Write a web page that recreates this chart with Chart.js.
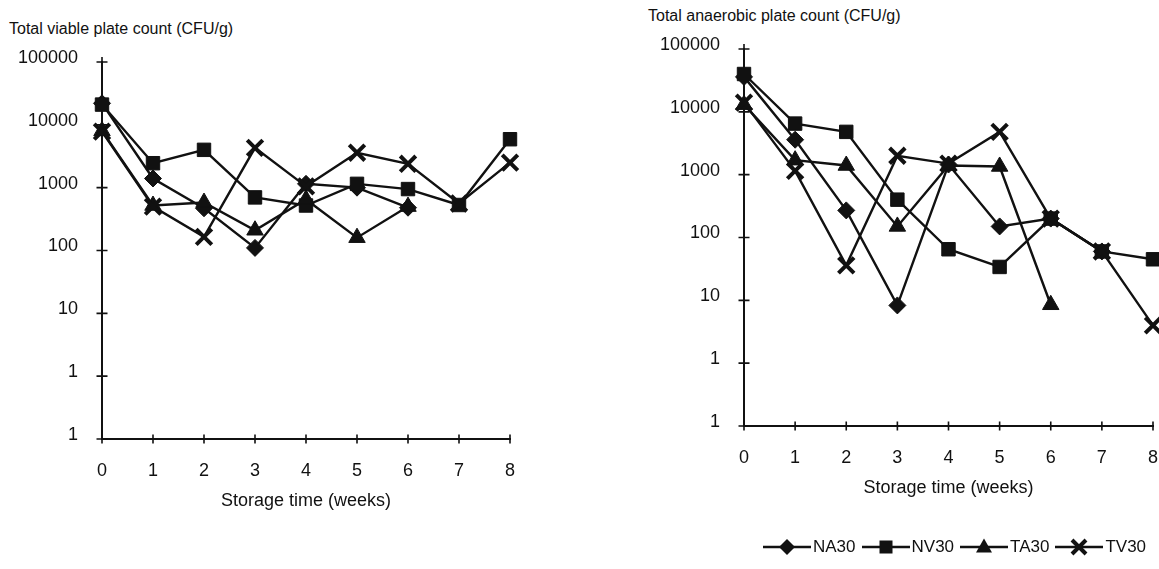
<!DOCTYPE html>
<html>
<head>
<meta charset="utf-8">
<script src="https://cdn.jsdelivr.net/npm/chart.js@4/dist/chart.umd.min.js"></script>
<style>
  html, body { margin: 0; padding: 0; background: #fff; }
  body { width: 1159px; height: 569px; position: relative; overflow: hidden;
         font-family: 'Liberation Sans', Arial, sans-serif; color: #111; }
  canvas { position: absolute; top: 0; }
  .ytitle { position: absolute; font-size: 16px; line-height: 18px; white-space: nowrap; }
  #legend { position: absolute; left: 763px; top: 536px; height: 22px; display: flex; align-items: center; font-size: 17px; }
  #legend .item { display: flex; align-items: center; margin-right: 6px; }
  #legend svg { margin-right: 2px; }
</style>
</head>
<body>
<div class="ytitle" style="left:9px; top:20px;">Total viable plate count (CFU/g)</div>
<div class="ytitle" style="left:648px; top:7px;">Total anaerobic plate count (CFU/g)</div>
<canvas id="viable" width="580" height="569" style="left:0; width:580px; height:569px;"></canvas>
<canvas id="anaerobic" width="569" height="556" style="left:590px; width:569px; height:556px;"></canvas>
<div id="legend"></div>

<script>
// Storage weeks on the x axis
const weeks = ['0', '1', '2', '3', '4', '5', '6', '7', '8'];

// Log axis tick positions and the labels printed beside them
const yTickValues = [0.1, 1, 10, 100, 1000, 10000, 100000];
const yTickLabels = ['1', '1', '10', '100', '1000', '10000', '100000'];

const seriesNames = ['NA30', 'NV30', 'TA30', 'TV30'];

// Total viable plate count (CFU/g)
const viableNA30 = [22000, 1400, 470, 110, 1150, 1000, 480, null, null];
const viableNV30 = [21000, 2450, 4000, 700, 520, 1150, 950, 530, 5900];
const viableTA30 = [8000, 520, 580, 210, 650, 160, 500, null, null];
const viableTV30 = [7800, 500, 165, 4300, 1050, 3600, 2400, 560, 2500];

// Total anaerobic plate count (CFU/g)
const anaerobicNA30 = [36000, 3600, 270, 8.3, 1450, 150, 200, 60, null];
const anaerobicNV30 = [40000, 6500, 4800, 400, 65, 34, 200, 60, 45];
const anaerobicTA30 = [13000, 1700, 1400, 150, 1400, 1350, 8.5, null, null];
const anaerobicTV30 = [14000, 1150, 36, 2000, 1500, 4800, 200, 60, 4];

const INK = '#111';
const FONT = "'Liberation Sans', Arial, sans-serif";

// Marker look for each series
const markerStyles = {
  NA30: { pointStyle: 'rectRot',  radius: 8.5, borderWidth: 1 },
  NV30: { pointStyle: 'rect',     radius: 9.5, borderWidth: 1 },
  TA30: { pointStyle: 'triangle', radius: 9.5, borderWidth: 1 },
  TV30: { pointStyle: 'crossRot', radius: 11,  borderWidth: 4 }
};

function buildDatasets(valuesList) {
  return valuesList.map((values, i) => {
    const name = seriesNames[i];
    const m = markerStyles[name];
    return {
      label: name,
      data: values,
      borderColor: INK,
      backgroundColor: INK,
      borderWidth: 2.4,
      pointStyle: m.pointStyle,
      pointRadius: m.radius,
      pointHoverRadius: m.radius,
      pointBackgroundColor: INK,
      pointBorderColor: INK,
      pointBorderWidth: m.borderWidth,
      tension: 0,
      spanGaps: false,
      clip: false,
      order: seriesNames.length - i
    };
  });
}

// Short tick marks that cross both axes, plus the stub above the top tick
const crossTicks = {
  id: 'crossTicks',
  afterDraw(chart) {
    const { ctx, scales: { x, y } } = chart;
    const x0 = x.getPixelForTick(0);
    const yb = y.getPixelForValue(yTickValues[0]);
    const yt = y.getPixelForValue(yTickValues[yTickValues.length - 1]);
    ctx.save();
    ctx.strokeStyle = INK;
    ctx.lineWidth = 1.6;
    ctx.beginPath();
    y.ticks.forEach(t => {
      const py = y.getPixelForValue(t.value);
      ctx.moveTo(x0 - 5.5, py);
      ctx.lineTo(x0 + 5.5, py);
    });
    ctx.moveTo(x0, yt);
    ctx.lineTo(x0, yt - 5);
    x.ticks.forEach((t, i) => {
      const px = x.getPixelForTick(i);
      ctx.moveTo(px, yb - 4.5);
      ctx.lineTo(px, yb + 4.5);
    });
    ctx.stroke();
    ctx.restore();
  }
};

function makeChart(id, valuesList, yAxisWidth, pad) {
  return new Chart(document.getElementById(id), {
    type: 'line',
    data: { labels: weeks, datasets: buildDatasets(valuesList) },
    options: {
      responsive: false,
      animation: false,
      events: [],
      layout: { autoPadding: false, padding: pad },
      plugins: { legend: { display: false }, title: { display: false }, tooltip: { enabled: false } },
      scales: {
        x: {
          type: 'category',
          offset: false,
          grid: { display: false, drawTicks: false },
          border: { display: true, color: INK, width: 2 },
          ticks: { color: INK, font: { family: FONT, size: 18 }, padding: 21, autoSkip: false, maxRotation: 0 },
          title: { display: true, text: 'Storage time (weeks)', color: INK,
                   font: { family: FONT, size: 18 }, padding: { top: 0, bottom: 57 } },
          afterFit(scale) {
            scale.height = 130;
            // let the end labels hang past the plot edges
            scale.paddingLeft = 0;
            scale.paddingRight = 0;
          }
        },
        y: {
          type: 'logarithmic',
          min: yTickValues[0],
          max: yTickValues[yTickValues.length - 1],
          grid: { display: false, drawTicks: false },
          border: { display: true, color: INK, width: 2 },
          afterBuildTicks(scale) { scale.ticks = yTickValues.map(v => ({ value: v })); },
          ticks: {
            color: INK,
            font: { family: FONT, size: 18 },
            padding: 24,
            labelOffset: -4,
            autoSkip: false,
            callback: (value, index) => yTickLabels[index]
          },
          afterFit(scale) {
            scale.width = yAxisWidth;
            scale.paddingTop = 0;
            scale.paddingBottom = 0;
          }
        }
      }
    },
    plugins: [crossTicks]
  });
}

makeChart('viable', [viableNA30, viableNV30, viableTA30, viableTV30], 102,
          { left: 0, top: 62, right: 70, bottom: 0 });
makeChart('anaerobic', [anaerobicNA30, anaerobicNV30, anaerobicTA30, anaerobicTV30], 154,
          { left: 0, top: 49, right: 6, bottom: 0 });

// Legend: a short line with the series marker, then the series name
function markerSvg(name) {
  const c = 24, cy = 11;
  let shape = '';
  if (name === 'NA30') shape = `<polygon points="${c},${cy - 8} ${c + 8},${cy} ${c},${cy + 8} ${c - 8},${cy}" fill="${INK}"/>`;
  if (name === 'NV30') shape = `<rect x="${c - 6.5}" y="${cy - 6.5}" width="13" height="13" fill="${INK}"/>`;
  if (name === 'TA30') shape = `<polygon points="${c},${cy - 8.5} ${c + 8},${cy + 5.5} ${c - 8},${cy + 5.5}" fill="${INK}"/>`;
  if (name === 'TV30') shape = `<path d="M${c - 7},${cy - 7} L${c + 7},${cy + 7} M${c + 7},${cy - 7} L${c - 7},${cy + 7}" stroke="${INK}" stroke-width="4"/>`;
  return `<svg width="48" height="22" viewBox="0 0 48 22"><line x1="0" y1="${cy}" x2="48" y2="${cy}" stroke="${INK}" stroke-width="2.4"/>${shape}</svg>`;
}
document.getElementById('legend').innerHTML = seriesNames
  .map(n => `<div class="item">${markerSvg(n)}<span>${n}</span></div>`).join('');
</script>
</body>
</html>
